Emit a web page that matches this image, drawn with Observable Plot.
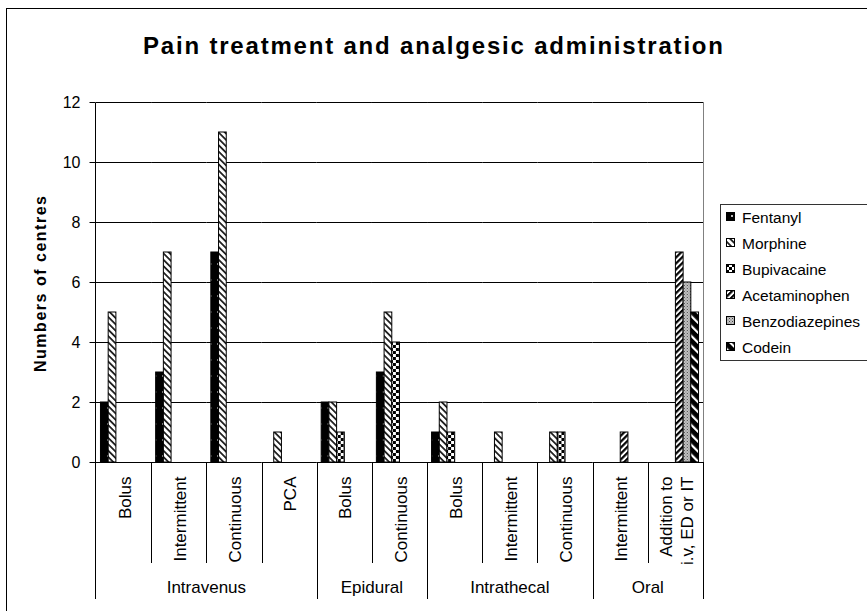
<!DOCTYPE html>
<html><head><meta charset="utf-8">
<script src="https://cdn.jsdelivr.net/npm/d3@7"></script>
<script src="https://cdn.jsdelivr.net/npm/@observablehq/plot@0.6"></script>
<style>
html,body{margin:0;padding:0;background:#fff;}
body{width:867px;height:611px;overflow:hidden;}
svg{display:block;}
</style></head><body><div id="chart"></div>
<script>
const title = "Pain treatment and analgesic administration";
const yLabel = "Numbers of centres";
const routes = ["Intravenus", "Epidural", "Intrathecal", "Oral"];
const methods = ["Bolus", "Intermittent", "Continuous", "PCA", "Bolus", "Continuous", "Bolus", "Intermittent", "Continuous", "Intermittent", "Addition to\ni.v, ED or IT"];
const methodRoute = [0, 0, 0, 0, 1, 1, 2, 2, 2, 3, 3];
const seriesNames = ["Fentanyl", "Morphine", "Bupivacaine", "Acetaminophen", "Benzodiazepines", "Codein"];
const fentanyl        = [2, 3, 7, 0, 2, 3, 1, 0, 0, 0, 0];
const morphine        = [5, 7, 11, 1, 2, 5, 2, 1, 1, 0, 0];
const bupivacaine     = [0, 0, 0, 0, 1, 4, 1, 0, 1, 0, 0];
const acetaminophen   = [0, 0, 0, 0, 0, 0, 0, 0, 0, 1, 7];
const benzodiazepines = [0, 0, 0, 0, 0, 0, 0, 0, 0, 0, 6];
const codein          = [0, 0, 0, 0, 0, 0, 0, 0, 0, 0, 5];
const yTicks = [0, 2, 4, 6, 8, 10, 12];

const valuesBySeries = [fentanyl, morphine, bupivacaine, acetaminophen, benzodiazepines, codein];
const patternIds = seriesNames.map((s, i) => "pat" + i);
const rows = [];
seriesNames.forEach((s, si) => valuesBySeries[si].forEach((v, slot) => { if (v > 0) rows.push({slot, series: s, value: v}); }));

const FONT = "'Liberation Sans', Arial, sans-serif";

const plot = Plot.plot({
  width: 867, height: 611,
  marginLeft: 96, marginRight: 164, marginTop: 102, marginBottom: 149,
  style: {fontFamily: FONT, fontSize: "16px", background: "white", color: "black", overflow: "visible"},
  fx: {domain: d3.range(methods.length), padding: 0, round: false, axis: null, label: null},
  x: {domain: seriesNames, paddingInner: 0, paddingOuter: 0.58, round: false, axis: null, label: null},
  y: {domain: [0, 12], ticks: yTicks, tickFormat: d => String(d), tickSize: 0, tickPadding: 16, label: null},
  marks: [
    Plot.ruleY(yTicks, {stroke: "black", strokeWidth: 1}),
    ...seriesNames.map((s, si) => Plot.barY(rows.filter(r => r.series === s), {
      fx: "slot", x: "series", y: "value",
      fill: `url(#${patternIds[si]})`, stroke: "black", strokeWidth: 1
    })),
    Plot.text(methods, {
      fx: (d, i) => i, text: d => d, frameAnchor: "bottom", rotate: -90,
      textAnchor: "end", lineAnchor: "middle", dy: 14, fontSize: 17, lineHeight: 1.2
    })
  ]
});

document.getElementById("chart").appendChild(plot);
const svg = d3.select(plot);

// patterns
const defs = svg.insert("defs", ":first-child");
function pat(id, w, h, transform) {
  const p = defs.append("pattern").attr("id", id).attr("patternUnits", "userSpaceOnUse")
    .attr("width", w).attr("height", h);
  if (transform) p.attr("patternTransform", transform);
  return p;
}
{ // Fentanyl: black with white dots
  const p = pat(patternIds[0], 8, 16);
  p.append("rect").attr("width", 8).attr("height", 16).attr("fill", "#000");
  p.append("circle").attr("cx", 4).attr("cy", 8).attr("r", 1).attr("fill", "#fff");
}
{ // Morphine: white with dark "\" stripes
  const p = pat(patternIds[1], 4.5, 4.5, "rotate(-45)");
  p.append("rect").attr("width", 4.5).attr("height", 4.5).attr("fill", "#fff");
  p.append("rect").attr("width", 1.8).attr("height", 4.5).attr("fill", "#222");
}
{ // Bupivacaine: checkerboard
  const p = pat(patternIds[2], 6, 6);
  p.append("rect").attr("width", 6).attr("height", 6).attr("fill", "#fff");
  p.append("rect").attr("width", 3).attr("height", 3).attr("fill", "#000");
  p.append("rect").attr("x", 3).attr("y", 3).attr("width", 3).attr("height", 3).attr("fill", "#000");
}
{ // Acetaminophen: heavy "/" stripes
  const p = pat(patternIds[3], 4.2, 4.2, "rotate(45)");
  p.append("rect").attr("width", 4.2).attr("height", 4.2).attr("fill", "#fff");
  p.append("rect").attr("width", 2.2).attr("height", 4.2).attr("fill", "#000");
}
{ // Benzodiazepines: grey stipple
  const p = pat(patternIds[4], 3, 3);
  p.append("rect").attr("width", 3).attr("height", 3).attr("fill", "#c4c4c4");
  p.append("rect").attr("width", 1).attr("height", 1).attr("fill", "#444");
  p.append("rect").attr("x", 1.5).attr("y", 1.5).attr("width", 1).attr("height", 1).attr("fill", "#666");
}
{ // Codein: black with white "\" stripes
  const p = pat(patternIds[5], 7, 7, "rotate(-45)");
  p.append("rect").attr("width", 7).attr("height", 7).attr("fill", "#000");
  p.append("rect").attr("width", 2.2).attr("height", 7).attr("fill", "#fff");
}

// scales from the plot
const fxS = plot.scale("fx");
const yS = plot.scale("y");
let fxApply, bw;
if (fxS && fxS.apply) { fxApply = fxS.apply; bw = fxS.bandwidth; }
if (!fxApply || bw == null) {
  const b = d3.scaleBand(fxS.domain, fxS.range).padding(0);
  fxApply = v => b(v); bw = b.bandwidth();
}
const y0 = yS.apply(0), yTop = yS.apply(12);
const n = methods.length;
const leftX = fxApply(0), rightX = fxApply(n - 1) + bw;
const shortBottom = 563, longBottom = 599;

const g = svg.append("g").attr("fill", "none").attr("stroke", "black");
// right plot-area border
g.append("line").attr("x1", Math.round(rightX) + 0.5).attr("x2", Math.round(rightX) + 0.5)
  .attr("y1", yTop).attr("y2", y0).attr("stroke", "#808080");
// y axis line
const axX = Math.round(leftX) - 0.5;
g.append("line").attr("x1", axX).attr("x2", axX)
  .attr("y1", Math.round(yTop) + 0.5).attr("y2", longBottom);
// y ticks
yTicks.forEach(t => {
  const yy = Math.round(yS.apply(t)) + 0.5;
  g.append("line").attr("x1", axX - 6).attr("x2", axX).attr("y1", yy).attr("y2", yy);
});
// separators
for (let i = 1; i <= n; i++) {
  const x = i < n ? fxApply(i) : rightX;
  const long = i === n || methodRoute[i] !== methodRoute[i - 1];
  g.append("line").attr("x1", Math.round(x) + 0.5).attr("x2", Math.round(x) + 0.5)
    .attr("y1", Math.round(y0)).attr("y2", long ? longBottom : shortBottom);
}
// group labels
const tg = svg.append("g").attr("font-family", FONT).attr("fill", "black");
routes.forEach((r, ri) => {
  const idx = d3.range(n).filter(i => methodRoute[i] === ri);
  const a = fxApply(idx[0]), b = fxApply(idx[idx.length - 1]) + bw;
  tg.append("text").attr("x", (a + b) / 2).attr("y", 587).attr("text-anchor", "middle")
    .attr("dominant-baseline", "central").attr("font-size", 17).text(r);
});
// title
tg.append("text").attr("x", 433).attr("y", 45).attr("text-anchor", "middle")
  .attr("dominant-baseline", "central").attr("font-size", 24).attr("font-weight", "bold")
  .attr("textLength", 580).attr("lengthAdjust", "spacing").text(title);
// y label
tg.append("text").attr("transform", "translate(40,284) rotate(-90)").attr("text-anchor", "middle")
  .attr("dominant-baseline", "central").attr("font-size", 16).attr("font-weight", "bold")
  .attr("textLength", 176).attr("lengthAdjust", "spacing").text(yLabel);
// legend
const lg = svg.append("g");
lg.append("rect").attr("x", 720.5).attr("y", 204.5).attr("width", 200).attr("height", 156)
  .attr("fill", "white").attr("stroke", "#333");
seriesNames.forEach((s, i) => {
  const cy = 217 + i * 26;
  lg.append("rect").attr("x", 726.5).attr("y", cy - 4.5).attr("width", 8).attr("height", 8)
    .attr("fill", `url(#${patternIds[i]})`).attr("stroke", "black");
  lg.append("text").attr("x", 742).attr("y", cy).attr("dominant-baseline", "central")
    .attr("text-anchor", "start").attr("font-family", FONT).attr("font-size", 15.5).text(s);
});
// outer chart border
svg.append("rect").attr("x", 6.5).attr("y", 8.5).attr("width", 900).attr("height", 700)
  .attr("fill", "none").attr("stroke", "black");
</script></body></html>
